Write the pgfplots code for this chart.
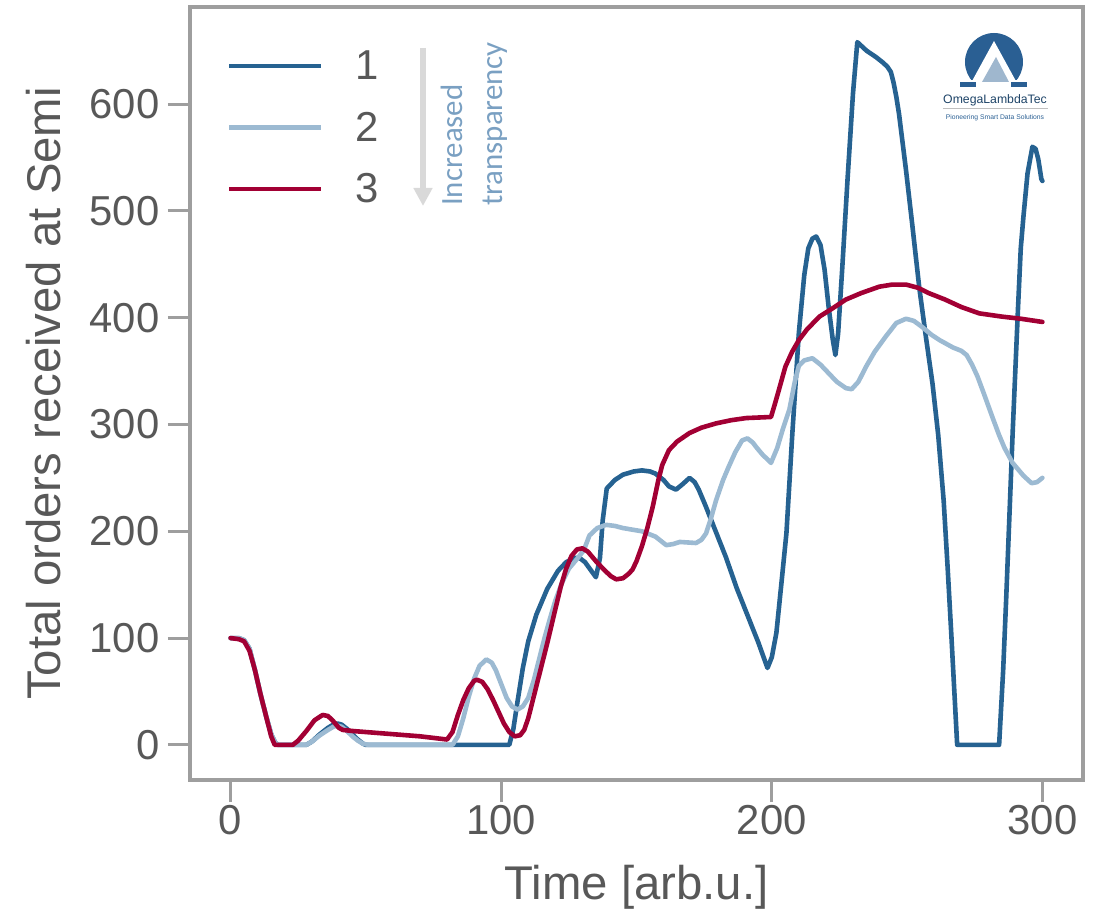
\documentclass[border=0pt]{standalone}
\usepackage{fontspec}
\setmainfont{Liberation Sans}
\newfontfamily\carlito{Carlito}
\usepackage{pgfplots}
\pgfplotsset{compat=1.18}
\usetikzlibrary{arrows.meta}
\definecolor{cone}{RGB}{38,98,145}
\definecolor{ctwo}{RGB}{156,186,210}
\definecolor{cthree}{RGB}{162,0,52}
\definecolor{framegray}{RGB}{158,158,158}
\definecolor{tickgray}{RGB}{88,88,88}
\definecolor{annblue}{RGB}{122,160,194}
\definecolor{logoblue}{RGB}{42,95,147}
\begin{document}
\begin{tikzpicture}
\path[use as bounding box] (-190bp,-130bp) rectangle (906bp,780bp);
\begin{axis}[
  scale only axis, width=893bp, height=773bp,
  at={(0,0)}, anchor=south west,
  xmin=-15, xmax=315, ymin=-32.9, ymax=690.9,
  xtick={0,100,200,300}, ytick={0,100,200,300,400,500,600},
  tick pos=left, tick align=outside, major tick length=22bp,
  every tick/.style={draw=framegray, line width=3bp},
  axis line style={draw=framegray, line width=3.5bp},
  ticklabel style={font=\fontsize{42}{50}\selectfont, text=tickgray},
  yticklabel style={xshift=-5bp},
  /pgf/number format/assume math mode=true,
  xlabel={Time [arb.u.]}, ylabel={Total orders received at Semi},
  label style={font=\fontsize{47.5}{56}\selectfont, text=tickgray},
  xlabel style={at={(axis description cs:0.5,-0.1552)}, anchor=base},
  ylabel style={at={(axis description cs:-0.1634,0.5)}, anchor=center},
  legend style={at={(axis description cs:0.038,0.9463)}, anchor=north west,
    draw=none, fill=none, font=\fontsize{42}{50}\selectfont, text=tickgray,
    row sep=31bp, column sep=0bp, nodes={inner xsep=31.5bp, inner ysep=0bp}},
  legend cell align=left,
  legend image code/.code={\draw[#1, line cap=butt] (0bp,0bp) -- (92bp,0bp);},
  every axis plot/.append style={line width=4.6bp, line join=round, line cap=round},
]
\addplot[cone] coordinates {
(0,100) (3,100) (5,98) (7,90) (9,70) (11,48) (13,28) (15,10) (16.5,2) (17.5,0) (28,0) (30,3) (33,10) (36,16)
(38,19) (39.5,20) (41,19) (43,15) (45,10) (47,5) (49,1) (50,0) (103,0) (104.5,15) (106,40) (108,72) (110,97)
(113,122) (117,146) (121,163) (124,171) (127,175) (129,175) (131,171) (133,164) (135,157) (136.5,175) (137.5,210)
(139,240) (142,248) (145,253) (149,256) (152,257) (155,256) (157,254) (160,248) (162,242) (164.6,239) (167,244)
(169.6,250) (171.5,246) (173,239) (175.5,224) (178,208) (183,176) (187,147) (191.7,117) (195,96) (198.4,72)
(200,82) (201.7,105) (203.5,150) (205.4,198) (207.6,292) (210,386) (212,440) (213.5,465) (215,474) (216.4,476)
(218,468) (219.5,445) (221,410) (222.5,380) (223.5,365) (224.5,385) (226,445) (228,530) (230,610) (231.6,658)
(235,650) (238.5,644) (241,639) (242.7,635) (244,630) (245,620) (246,607) (247,591) (249.6,538) (252,485)
(254.5,428) (257,381) (259.4,338) (261.5,290) (263.5,229) (265,165) (266.3,105) (268.5,0) (284,0) (285.5,70)
(286.6,136) (289,292) (291,410) (292,465) (293,495) (294.5,535) (296.3,560) (297.5,558) (298.5,548) (299.6,530) (300,528)
};
\addlegendentry{1}
\addplot[ctwo] coordinates {
(0,100) (3,100) (5,98) (7,90) (9,70) (11,48) (13,28) (15,10) (16.5,2) (17.5,0) (28,0) (30,3) (33,9) (36,14)
(38,17) (39.5,18) (41,17) (43,13) (45,8) (47,4) (49,1) (51,0) (82,0) (84,8) (86,25) (88,45) (90,62) (92,74)
(94.5,80) (96.5,77) (98,70) (100,57) (102,44) (104,36) (106,33) (108,36) (110,44) (112,60) (114,80) (116,100)
(118,118) (120,135) (122.5,152) (125,165) (128,174) (130.5,182) (132.6,196) (135.5,203) (138.8,206) (142,205)
(145,203) (152,200) (157,195) (159,191) (161,187) (163.5,188) (166,190) (172,189) (174,192) (175.7,198)
(177.5,212) (179.4,229) (182,248) (184,260) (186.5,274) (189,285) (191,287) (193,283) (194.5,278) (196.5,272)
(199.7,264) (202,278) (204,295) (206.5,314) (208.5,340) (210,355) (212,360) (215,362) (218,356) (221,348)
(224,340) (227.4,334) (229.5,333) (232,340) (234.8,354) (238,368) (242,382) (246,395) (249.6,399) (252.5,397)
(255.7,391) (259,384) (262,379) (267,372) (270,369) (272,365) (274,356) (276,345) (278.5,328) (281.5,307)
(284,290) (286,278) (289,264) (293,252) (296,245) (298,246) (300,250)
};
\addlegendentry{2}
\addplot[cthree] coordinates {
(0,100) (3,99) (5,97) (7,88) (9,70) (11,48) (13,28) (15,8) (16.3,0) (23,0) (25,4) (28,13) (31,23) (34,28)
(36,27) (38,22) (40,16) (41.4,14) (45,13) (60,10) (70,8) (80,5) (82,12) (84,28) (86,42) (88,53) (90,60) (91,61)
(93,59) (95,52) (97,42) (99,31) (101,20) (103,12) (105,8) (107,9) (108.5,14) (110,25) (112,45) (114,65) (117,95)
(120,127) (122,148) (124,165) (126,177) (128,183) (130,184) (132,181) (135,172) (138,164) (140.5,158) (142.5,155)
(145,156) (147,160) (148.5,164) (150,172) (152,186) (154,203) (156,223) (158,247) (159.5,262) (162,276) (165,284)
(169.6,292) (174,297) (179.4,301) (185,304) (190.5,306) (199.7,307) (201,318) (202.8,334) (205,354) (207.5,368)
(210,379) (213,389) (217.6,401) (222,408) (227.4,417) (233,423) (239.7,429) (244.5,431) (249.6,431) (254,428)
(258,423) (264,417) (270,410) (276.7,404) (285,401) (292,399) (300,396)
};
\addlegendentry{3}
\end{axis}
\begin{scope}[shift={(-190bp,780bp)}, x=1bp, y=-1bp]
  % arrow and annotation
  \draw[line width=6.5bp, draw=black!15, -{Triangle[width=18bp,length=18bp]}] (423,48) -- (423,206);
  \node[rotate=90, anchor=west, align=left, inner sep=0pt, text=annblue,
        font=\carlito\fontsize{31}{40}\selectfont] at (474,206) {Increased\\transparency};
  % logo
  \begin{scope}
    \clip (950,20) rectangle (1040,80);
    \fill[logoblue] (994,62) circle[radius=29];
  \end{scope}
  \fill[white] (994,41) -- (971,83) -- (1017,83) -- cycle;
  \fill[logoblue!45] (996,57) -- (982,82) -- (1009,82) -- cycle;
  \fill[logoblue] (960,82) rectangle (976,87);
  \fill[logoblue] (1011,82) rectangle (1027,87);
  \node[text=logoblue!70!black, font=\fontsize{12.3}{14}\selectfont, inner sep=0pt] at (995,100) {OmegaLambdaTec};
  \draw[black!25, line width=1bp] (943,109) -- (1048,109);
  \node[text=logoblue, font=\fontsize{6.8}{8}\selectfont, inner sep=0pt] at (995,118) {Pioneering Smart Data Solutions};
\end{scope}
\end{tikzpicture}
\end{document}
